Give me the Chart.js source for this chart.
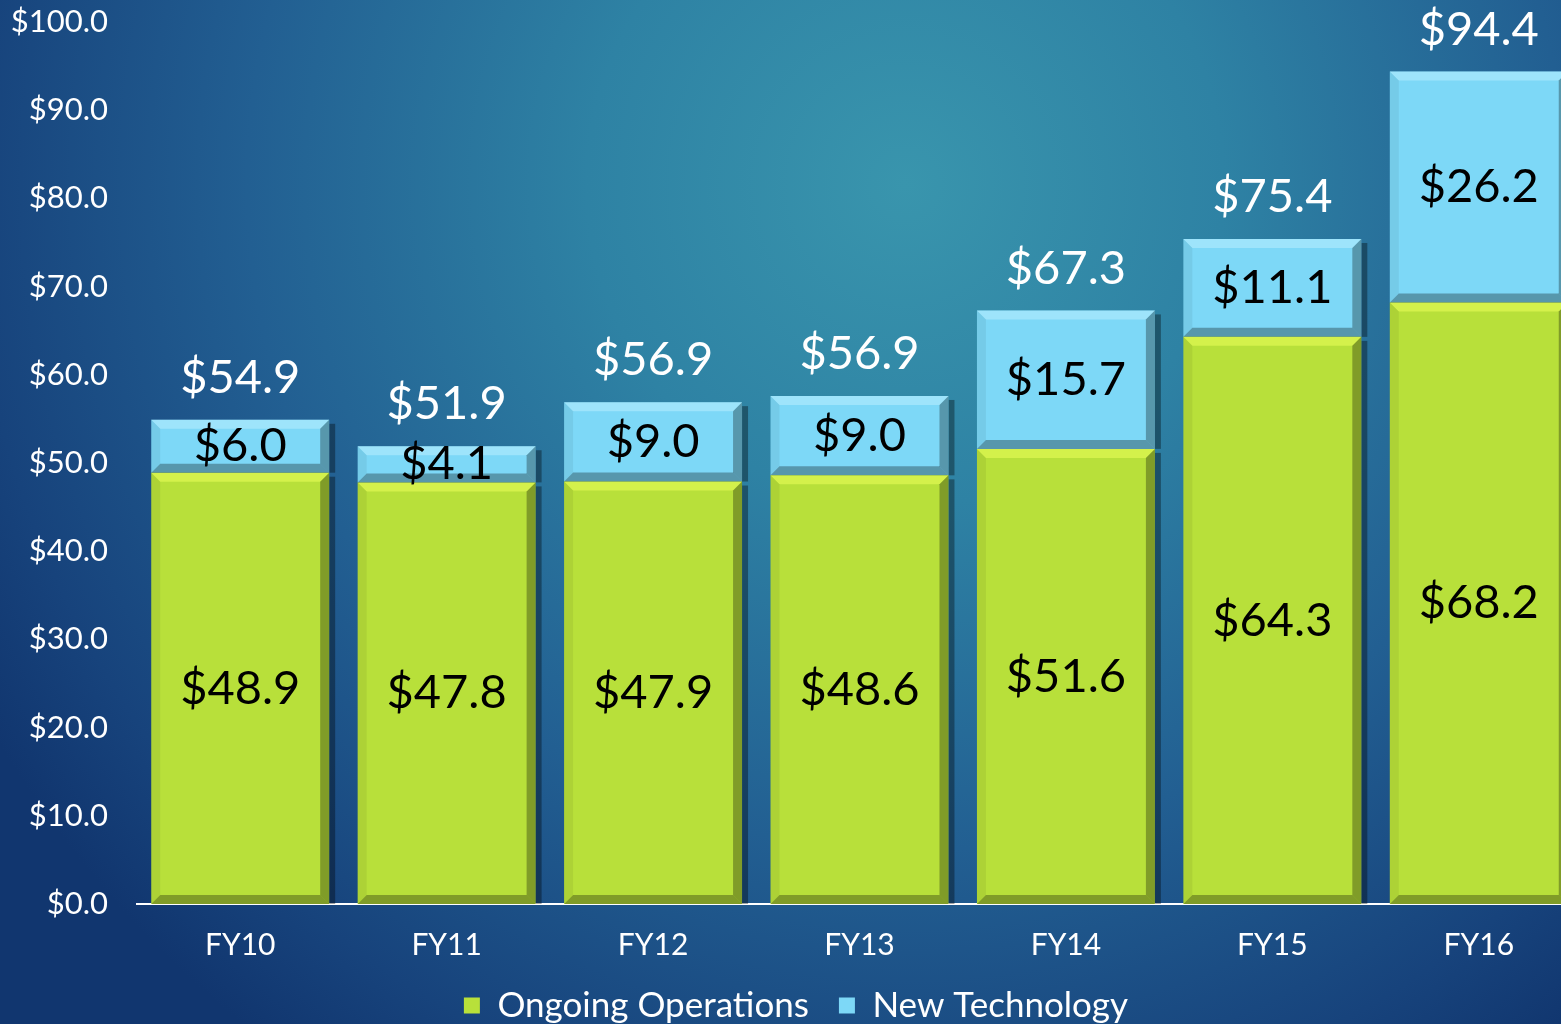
<!DOCTYPE html>
<html>
<head>
<meta charset="utf-8">
<script src="https://cdn.jsdelivr.net/npm/chart.js@4.4.1/dist/chart.umd.min.js"></script>
<style>
  html, body { margin: 0; padding: 0; overflow: hidden; }
  body {
    width: 1561px; height: 1024px;
    background: radial-gradient(ellipse 68% 105% at 58% 18%, #3995ad 0%, #2e82a4 30%, #225f92 62%, #17437c 88%, #11366f 100%);
  }
  #wrap { position: relative; width: 1600px; height: 1024px; }
</style>
</head>
<body>
<div id="wrap"><canvas id="chart" width="1600" height="1024"></canvas></div>
<script>
// chart values
const years = ["FY10", "FY11", "FY12", "FY13", "FY14", "FY15", "FY16"];
const ongoing = [48.9, 47.8, 47.9, 48.6, 51.6, 64.3, 68.2];
const newTech = [6.0, 4.1, 9.0, 9.0, 15.7, 11.1, 26.2];
const totals = [54.9, 51.9, 56.9, 56.9, 67.3, 75.4, 94.4];

const FONT = "Lato, 'DejaVu Sans', sans-serif";
const money = v => "$" + v.toFixed(1);

// bevelled look for the bars, drawn over each bar element
const bevelPlugin = {
  id: "bevel",
  beforeDatasetsDraw(chart) {
    const ctx = chart.ctx;
    ctx.save();
    chart.data.datasets.forEach((ds, di) => {
      chart.getDatasetMeta(di).data.forEach(bar => {
        const p = bar.getProps(["x", "y", "base", "width"], true);
        const r = p.x + p.width / 2;
        ctx.fillStyle = "rgba(0,0,0,0.35)";
        ctx.fillRect(r, p.y + 4, 6, p.base - p.y - 4);
      });
    });
    ctx.restore();
  },
  afterDatasetsDraw(chart) {
    const ctx = chart.ctx;
    const b = 9;
    ctx.save();
    chart.data.datasets.forEach((ds, di) => {
      chart.getDatasetMeta(di).data.forEach(bar => {
        const p = bar.getProps(["x", "y", "base", "width"], true);
        const l = p.x - p.width / 2, r = p.x + p.width / 2;
        const t = p.y, bt = p.base;
        const poly = (pts, color) => {
          ctx.beginPath();
          ctx.moveTo(pts[0][0], pts[0][1]);
          for (let i = 1; i < pts.length; i++) ctx.lineTo(pts[i][0], pts[i][1]);
          ctx.closePath();
          ctx.fillStyle = color;
          ctx.fill();
        };
        const topCol = di === 0 ? "rgba(235,255,90,0.55)" : "rgba(200,245,255,0.45)";
        // top
        poly([[l, t], [r, t], [r - b, t + b], [l + b, t + b]], topCol);
        // left
        poly([[l, t], [l + b, t + b], [l + b, bt - b], [l, bt]], "rgba(0,0,0,0.06)");
        // right
        poly([[r, t], [r, bt], [r - b, bt - b], [r - b, t + b]], "rgba(0,0,0,0.3)");
        // bottom
        poly([[l, bt], [r, bt], [r - b, bt - b], [l + b, bt - b]], "rgba(0,0,0,0.3)");
      });
    });
    ctx.restore();
  }
};

// value labels inside segments and totals above stacks
const labelPlugin = {
  id: "labels",
  afterDatasetsDraw(chart) {
    const ctx = chart.ctx;
    ctx.save();
    ctx.font = "47px " + FONT;
    ctx.textAlign = "center";
    ctx.textBaseline = "middle";
    ctx.fillStyle = "#000";
    chart.data.datasets.forEach((ds, di) => {
      chart.getDatasetMeta(di).data.forEach((bar, i) => {
        const p = bar.getProps(["x", "y", "base"], true);
        ctx.fillText(money(ds.data[i]), p.x, (p.y + p.base) / 2);
      });
    });
    ctx.fillStyle = "#fff";
    const top = chart.getDatasetMeta(1).data;
    top.forEach((bar, i) => {
      const p = bar.getProps(["x", "y"], true);
      ctx.fillText(money(totals[i]), p.x, p.y - 42);
    });
    ctx.restore();
  }
};

new Chart(document.getElementById("chart"), {
  type: "bar",
  data: {
    labels: years,
    datasets: [
      { label: "Ongoing Operations", data: ongoing, backgroundColor: "#b8e03a", borderWidth: 0 },
      { label: "New Technology", data: newTech, backgroundColor: "#7dd8f7", borderWidth: 0 }
    ]
  },
  options: {
    responsive: false,
    animation: false,
    devicePixelRatio: 1,
    layout: { padding: { top: 22, right: 18, left: 10, bottom: -9 } },
    datasets: { bar: { categoryPercentage: 1.0, barPercentage: 0.862 } },
    scales: {
      x: {
        stacked: true,
        afterFit: s => { s.height = 54; s.paddingLeft = 0; s.paddingRight = 0; },
        grid: { display: false, drawTicks: false },
        border: { display: true, color: "#ffffff", width: 2 },
        ticks: { color: "#ffffff", font: { family: FONT, size: 30, lineHeight: 1 }, padding: 26 }
      },
      y: {
        stacked: true,
        min: 0, max: 100,
        afterFit: s => { s.width = 127; s.paddingTop = 0; s.paddingBottom = 0; },
        grid: { display: false, drawTicks: false },
        border: { display: false },
        ticks: {
          stepSize: 10, color: "#ffffff", padding: 29,
          font: { family: FONT, size: 31 },
          callback: v => money(v)
        }
      }
    },
    plugins: {
      tooltip: { enabled: false },
      legend: {
        position: "bottom",
        labels: {
          color: "#ffffff",
          font: { family: FONT, size: 35 },
          boxWidth: 16, boxHeight: 16,
          padding: 30
        }
      }
    }
  },
  plugins: [bevelPlugin, labelPlugin]
});
</script>
</body>
</html>
